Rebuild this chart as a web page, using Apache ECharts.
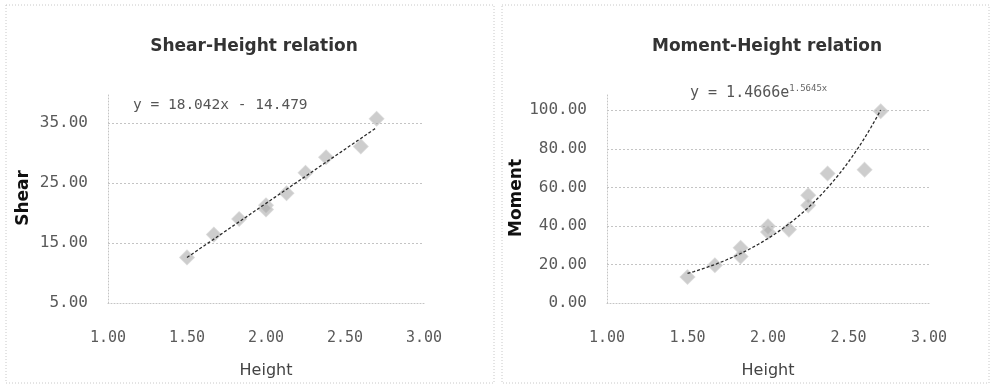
<!DOCTYPE html>
<html>
<head>
<meta charset="utf-8">
<title>Shear / Moment - Height</title>
<script src="https://cdn.jsdelivr.net/npm/echarts@6/dist/echarts.min.js"></script>
<style>
  html, body { margin: 0; padding: 0; background: #fff; }
  #main { width: 994px; height: 387px; }
</style>
</head>
<body>
<div id="main"></div>
<script>
// values
var shearHeight = [1.50, 1.67, 1.83, 2.00, 2.00, 2.13, 2.25, 2.38, 2.60, 2.70]
var shearValue = [12.6, 16.4, 19.0, 21.3, 20.6, 23.3, 26.7, 29.3, 31.1, 35.7]
var momentHeight = [1.50, 1.67, 1.83, 1.83, 2.00, 2.00, 2.13, 2.25, 2.25, 2.37, 2.60, 2.70]
var momentValue = [13.5, 19.6, 28.7, 24.2, 39.8, 36.8, 38.1, 55.9, 50.7, 67.2, 69.2, 99.5]
// trendline coefficients as printed on the chart
var shearFit = [18.042, -14.479] // y = a*x + b
var momentFit = [1.4666, 1.5645] // y = a*e^(b*x)
var fitRange = [1.5, 2.7]

var myChart = echarts.init(document.getElementById('main'))
var gridColor = '#c4c4c4'
var labelColor = '#5a5a5a'
var monoFont = 'DejaVu Sans Mono'

function pairs(xs, ys) {
  return xs.map(function(x, i) {
    return [x, ys[i]]
  })
}

function trendLine(fn) {
  var pts = []
  for (var x = fitRange[0]; x <= fitRange[1] + 1e-9; x += 0.02) {
    pts.push([x, fn(x)])
  }
  return pts
}

var shearTrend = trendLine(function(x) {
  return shearFit[0] * x + shearFit[1]
})
var momentTrend = trendLine(function(x) {
  return momentFit[0] * Math.exp(momentFit[1] * x)
})

function xAxisOf(gridIndex) {
  return {
    gridIndex: gridIndex,
    type: 'value',
    min: 1,
    max: 3,
    interval: 0.5,
    name: 'Height',
    nameLocation: 'middle',
    nameGap: 60,
    nameTextStyle: { color: '#444', fontSize: 16, fontFamily: 'DejaVu Sans' },
    axisLine: { show: true, lineStyle: { color: gridColor, type: [1, 2], width: 1 } },
    axisTick: { show: false },
    axisLabel: {
      margin: 28,
      color: labelColor,
      fontSize: 15,
      fontFamily: monoFont,
      formatter: function(v) {
        return v.toFixed(2)
      }
    },
    splitLine: { show: false }
  }
}

function yAxisOf(gridIndex, name, min, max, interval, gap) {
  return {
    gridIndex: gridIndex,
    type: 'value',
    min: min,
    max: max,
    interval: interval,
    name: name,
    nameLocation: 'middle',
    nameGap: gap,
    nameTextStyle: { color: '#111', fontSize: 17, fontWeight: 'bold', fontFamily: 'DejaVu Sans' },
    axisLine: { show: true, lineStyle: { color: gridColor, type: [1, 2], width: 1 } },
    axisTick: { show: false },
    axisLabel: {
      margin: 20,
      color: labelColor,
      fontSize: 16,
      fontFamily: monoFont,
      showMaxLabel: false,
      formatter: function(v) {
        return v.toFixed(2)
      }
    },
    splitLine: {
      show: true,
      showMinLine: false,
      showMaxLine: false,
      lineStyle: { color: gridColor, type: [2, 2], width: 1 }
    }
  }
}

var pointStyle = {
  color: 'rgba(165,165,165,0.7)',
  borderColor: 'rgba(205,205,205,0.9)',
  borderWidth: 1.5
}
var trendStyle = { color: '#2a2a2a', width: 1.3, type: [3, 2] }

option = {
  backgroundColor: '#fff',
  animation: false,
  title: [
    {
      text: 'Shear-Height relation',
      left: 249,
      top: 33,
      textAlign: 'center',
      textStyle: { fontSize: 17, fontWeight: 'bold', color: '#333', fontFamily: 'DejaVu Sans' }
    },
    {
      text: 'Moment-Height relation',
      left: 762,
      top: 33,
      textAlign: 'center',
      textStyle: { fontSize: 17, fontWeight: 'bold', color: '#333', fontFamily: 'DejaVu Sans' }
    }
  ],
  grid: [
    { left: 108, top: 93, width: 316, height: 210 },
    { left: 607, top: 93, width: 322, height: 210 }
  ],
  xAxis: [xAxisOf(0), xAxisOf(1)],
  yAxis: [
    yAxisOf(0, 'Shear', 5, 40, 10, 76),
    yAxisOf(1, 'Moment', 0, 109, 20, 78)
  ],
  graphic: [
    // dotted panel frames
    {
      type: 'rect',
      shape: { x: 6, y: 5, width: 488, height: 378 },
      style: { fill: null, stroke: '#c8c8c8', lineWidth: 1, lineDash: [1, 2] },
      silent: true
    },
    {
      type: 'rect',
      shape: { x: 502, y: 5, width: 487, height: 378 },
      style: { fill: null, stroke: '#c8c8c8', lineWidth: 1, lineDash: [1, 2] },
      silent: true
    },
    {
      type: 'text',
      left: 133,
      top: 98,
      style: {
        text: 'y = 18.042x - 14.479',
        fill: '#555',
        font: '14.5px ' + monoFont
      }
    },
    {
      type: 'text',
      left: 690,
      top: 84,
      style: {
        text: '{b|y = 1.4666e}{s|1.5645x}',
        rich: {
          b: { fill: '#555', fontSize: 15, fontFamily: monoFont, verticalAlign: 'bottom' },
          s: { fill: '#666', fontSize: 9, fontFamily: monoFont, padding: [0, 0, 8, 0], verticalAlign: 'bottom' }
        }
      }
    }
  ],
  series: [
    {
      name: 'Shear',
      type: 'scatter',
      xAxisIndex: 0,
      yAxisIndex: 0,
      symbol: 'diamond',
      symbolSize: 14,
      itemStyle: pointStyle,
      data: pairs(shearHeight, shearValue),
      z: 2
    },
    {
      name: 'Shear trend',
      type: 'line',
      xAxisIndex: 0,
      yAxisIndex: 0,
      showSymbol: false,
      lineStyle: trendStyle,
      data: shearTrend,
      z: 3
    },
    {
      name: 'Moment',
      type: 'scatter',
      xAxisIndex: 1,
      yAxisIndex: 1,
      symbol: 'diamond',
      symbolSize: 14,
      itemStyle: pointStyle,
      data: pairs(momentHeight, momentValue),
      z: 2
    },
    {
      name: 'Moment trend',
      type: 'line',
      xAxisIndex: 1,
      yAxisIndex: 1,
      showSymbol: false,
      lineStyle: trendStyle,
      data: momentTrend,
      z: 3
    }
  ]
}
myChart.setOption(option, true)
window.onresize = function() {
  myChart.resize()
}
</script>
</body>
</html>
